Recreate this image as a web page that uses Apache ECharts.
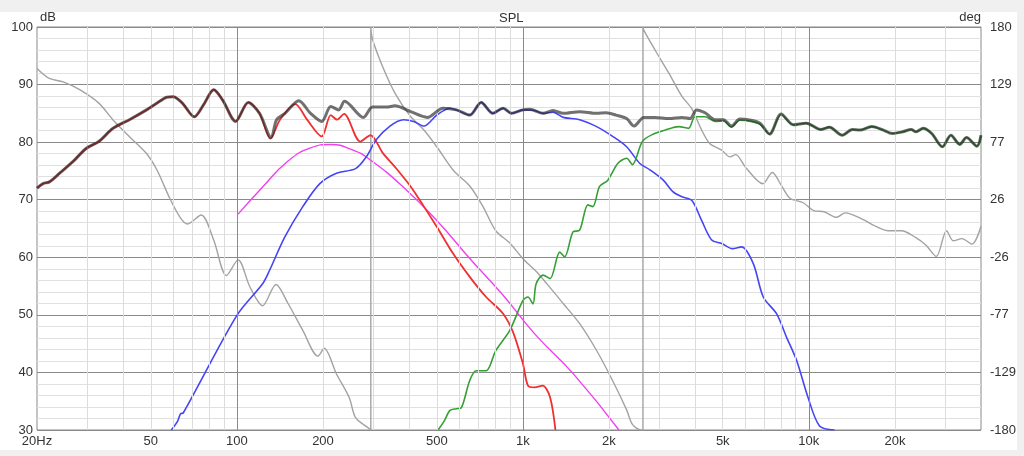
<!DOCTYPE html>
<html>
<head>
<meta charset="utf-8">
<script src="https://cdn.jsdelivr.net/npm/echarts@6/dist/echarts.min.js"></script>
<style>
  html, body { margin: 0; padding: 0; background: #f0f0f0; }
  #spl { width: 1024px; height: 456px; }
</style>
</head>
<body>
<div id="spl"></div>
<script>
// frequency labels and grid positions (Hz)
var hzLabels = [20, 50, 100, 200, 500, 1000, 2000, 5000, 10000, 20000];
var hzMajor = [100, 1000, 10000];
var hzMinor = [30, 40, 50, 60, 70, 80, 90, 200, 300, 400, 500, 600, 700, 800, 900,
    2000, 3000, 4000, 5000, 6000, 7000, 8000, 9000, 20000, 30000];

// summed response [Hz, dB]
var totalSpl = [[20,72.0],[21,72.8],[22.1,73.1],[24,74.6],[26.7,76.6],[29.7,78.9],[32.9,80.1],[36.9,82.4],[42.1,83.9],[48.3,85.6],
    [52.6,86.8],[56.8,87.8],[59.8,87.9],[64.4,86.8],[71,84.4],[76.5,86.5],[83,89.1],[89.2,87.3],[99,83.6],[109.6,86.9],
    [120,85.0],[131.8,80.8],[137.7,83.9],[147.4,85.0],[164.6,87.2],[181,85.0],[198,83.6],[213,86.2],[227,85.6],[238,87.1],
    [277,84.3],[298,86.1],[333,86.1],[357,86.3],[405,85.3],[463,84.3],[526,85.9],[586,85.6],[652,84.7],[715,86.9],
    [785,85.0],[853,85.9],[912,85.0],[1001,85.6],[1058,85.7],[1177,85.0],[1275,85.5],[1384,85.0],[1580,85.3],[1811,85.0],
    [1955,85.1],[2118,84.7],[2306,84.1],[2448,82.8],[2650,84.3],[2906,84.3],[3236,84.1],[3601,84.3],[3846,84.1],[4050,85.6],
    [4336,85.1],[4701,83.9],[5028,83.9],[5365,82.8],[5737,84.0],[6130,83.9],[6746,83.3],[7290,81.4],[8000,84.9],[8830,83.0],
    [9790,83.3],[11000,82.2],[11800,82.6],[13100,81.2],[14200,82.2],[15100,82.1],[16600,82.7],[18000,82.2],[19600,81.5],[21300,81.8],
    [22800,82.2],[23700,81.8],[25100,82.4],[26900,81.5],[29300,79.2],[31400,81.2],[33700,79.6],[35600,80.8],[38700,79.3],[40000,81.2]];

// woofer
var wooferSpl = [[20,72.0],[21,72.8],[22.1,73.1],[24,74.6],[26.7,76.6],[29.7,78.9],[32.9,80.1],[36.9,82.4],[42.1,83.9],[48.3,85.6],
    [52.6,86.8],[56.8,87.8],[59.8,87.9],[64.4,86.8],[71,84.4],[76.5,86.5],[83,89.1],[89.2,87.3],[99,83.6],[109.6,86.9],
    [120,85.0],[131,80.6],[141.5,83.9],[160,86.6],[176,83.9],[198,81.0],[213,84.7],[224,83.9],[237,84.9],[270,80.1],
    [293,81.2],[324,78.1],[357,75.7],[405,72.3],[451,68.8],[500,65.3],[571,60.6],[652,56.6],[744,53.1],[853,50.2],
    [924,47.0],[1001,41.5],[1042,37.7],[1100,37.4],[1173,37.7],[1245,35.7],[1300,30]];

// midrange
var midSpl = [[59,30],[62,31.5],[63.5,32.8],[65,33],[100,49.9],[123,55.4],[130,57.7],[147,63.5],[170,68.8],[195,72.8],
    [223,74.6],[260,75.4],[284,77.5],[307,80.4],[343,82.8],[383,83.9],[415,83.6],[451,82.8],[500,84.7],[556,85.9],
    [586,85.6],[652,84.7],[715,86.9],[785,85.0],[853,85.9],[912,85.0],[1001,85.6],[1100,85.5],[1177,85.0],[1275,85.2],
    [1384,84.3],[1580,83.9],[1811,82.7],[2061,81.0],[2306,79.2],[2566,76.3],[2780,75.2],[3098,73.4],[3345,71.4],[3601,70.5],
    [3896,69.9],[4218,66.4],[4575,63.0],[4958,62.4],[5400,61.5],[5815,61.8],[6394,58.9],[6928,53.1],[7710,50.2],[8360,46.1],
    [9060,42.1],[9930,35.7],[10900,30.7],[12300,30]];

// tweeter
var tweeterSpl = [[505,30],[530,31.5],[556,33.4],[586,33.7],[610,33.9],[652,38.6],[687,40.3],[744,40.3],[804,43.8],[900,47.3],
    [1001,52.5],[1042,53.1],[1085,51.9],[1113,55.4],[1177,56.9],[1245,56.3],[1346,60.9],[1400,60.1],[1497,64.4],[1580,64.7],
    [1688,69.1],[1756,68.8],[1855,72.3],[1982,73.4],[2147,76.3],[2306,77.2],[2416,76.1],[2616,80.1],[2832,81.3],[3150,82.1],
    [3507,82.7],[3796,82.4],[4003,84.4],[4336,84.4],[4701,83.6],[5028,83.7],[5365,82.6],[5737,83.8],[6130,83.7],[6746,83.1],
    [7290,81.4],[8000,84.8],[8830,83.0],[9790,83.3],[11000,82.2],[11800,82.6],[13100,81.2],[14200,82.2],[15100,82.1],[16600,82.7],
    [18000,82.2],[19600,81.5],[21300,81.8],[22800,82.2],[23700,81.8],[25100,82.4],[26900,81.5],[29300,79.2],[31400,81.2],[33700,79.6],
    [35600,80.8],[38700,79.3],[40000,81.2]];

// target (magenta)
var targetSpl = [[101,67.5],[123.5,72.3],[150,76.6],[181,79.0],[213,79.6],[255,78.6],[293,76.9],[380,72.3],[500,66.4],[652,59.8],
    [853,53.4],[1100,46.7],[1502,39.75],[2168,30]];

// phase [Hz, deg], wraps at +-180
var phaseDeg = [[20,143],[22.1,134],[24.7,131],[28.2,124],[32.9,112],[36.9,97],[42.1,82],[48.3,67],[52.6,52],[58,28],
    [63.3,10],[67.2,4],[75,12],[82.9,-10],[91.9,-42],[101,-28],[111,-52],[123,-69],[137,-50],[151,-67],
    [170,-91],[192,-114],[202,-107],[223,-130],[247,-151],[260,-169],[284,-177],[294,-180],[294,180],[298,169],
    [324,144],[357,121],[405,100],[451,88],[500,73],[571,52],[652,38],[724,20],[804,-2],[900,-13],
    [1001,-27],[1110,-38],[1210,-49],[1384,-67],[1580,-85],[1811,-109],[2061,-136],[2306,-162],[2416,-175],[2590,-180],
    [2630,-180],[2630,180],[2650,177],[2906,159],[3236,139],[3601,118],[3896,107],[4218,88],[4500,76],[4958,70],
    [5300,64],[5553,66],[5994,55],[6900,40],[7450,50],[8032,38],[8590,27],[9560,23],[10400,16],[11300,15],
    [12500,10],[13400,14],[15500,8],[16800,3],[18900,-2],[21100,-2],[23600,-8],[25700,-15],[27900,-25],[30300,-2],
    [32000,-11],[34300,-9],[37200,-14],[40000,2]];

var dbMin = 30, dbMax = 100;
// phase is drawn against the dB scale, right axis shows degrees
function degToDb(d) { return dbMin + (d + 180) / 360 * (dbMax - dbMin); }
function dbToDeg(v) { return (v - dbMin) / (dbMax - dbMin) * 360 - 180; }

var phaseOnDb = phaseDeg.map(function (p) { return [p[0], degToDb(p[1])]; });

var gridLines = [];
hzMinor.forEach(function (f) {
    gridLines.push({ xAxis: f, lineStyle: { color: '#dcdcdc', width: 1, type: 'solid' } });
});
hzMajor.forEach(function (f) {
    gridLines.push({ xAxis: f, lineStyle: { color: '#8a8a8a', width: 1, type: 'solid' } });
});

var font = 'Liberation Sans, Arial, sans-serif';

var myChart = echarts.init(document.getElementById('spl'));

var option = {
    backgroundColor: '#f0f0f0',
    animation: false,
    textStyle: { fontFamily: font },
    graphic: [{
        type: 'rect', z: -10, silent: true,
        shape: { x: 0, y: 12, width: 1017, height: 438 },
        style: { fill: '#ffffff' }
    }],
    title: {
        text: 'SPL',
        left: 494,
        top: 7,
        textStyle: { fontSize: 13, fontWeight: 'normal', color: '#333', fontFamily: font }
    },
    grid: {
        left: 37,
        right: 43,
        top: 27,
        bottom: 26,
        show: true,
        backgroundColor: '#ffffff',
        borderColor: '#8a8a8a',
        borderWidth: 1
    },
    xAxis: {
        type: 'log',
        logBase: 10,
        min: 20,
        max: 40000,
        axisLine: { show: false },
        axisTick: { show: false },
        splitLine: { show: false },
        axisLabel: {
            customValues: hzLabels,
            margin: 5,
            fontSize: 13,
            color: '#333',
            fontFamily: font,
            formatter: function (v) {
                if (v === 20) return '20Hz';
                if (v >= 1000) return (v / 1000) + 'k';
                return String(v);
            }
        }
    },
    yAxis: [{
        type: 'value',
        min: dbMin,
        max: dbMax,
        interval: 10,
        position: 'left',
        name: 'dB',
        nameLocation: 'end',
        nameGap: 3,
        nameTextStyle: { align: 'left', fontSize: 13, color: '#333', fontFamily: font, padding: [0, 0, 0, 3] },
        axisLine: { show: false },
        axisTick: { show: false },
        axisLabel: { fontSize: 13, color: '#333', margin: 4, fontFamily: font },
        splitLine: { show: true, lineStyle: { color: '#8a8a8a', width: 1 } },
        minorTick: { show: false, splitNumber: 5 },
        minorSplitLine: { show: true, lineStyle: { color: '#e0e0e0', width: 1 } }
    }, {
        type: 'value',
        min: dbMin,
        max: dbMax,
        interval: 10,
        position: 'right',
        name: 'deg',
        nameLocation: 'end',
        nameGap: 3,
        nameTextStyle: { align: 'right', fontSize: 13, color: '#333', fontFamily: font },
        axisLine: { show: false },
        axisTick: { show: false },
        splitLine: { show: false },
        axisLabel: {
            fontSize: 13, color: '#333', margin: 9, fontFamily: font,
            formatter: function (v) { return String(Math.round(dbToDeg(v))); }
        }
    }],
    series: [
        {
            name: 'grid',
            type: 'line',
            data: [],
            z: 1,
            silent: true,
            markLine: {
                silent: true,
                symbol: ['none', 'none'],
                label: { show: false },
                animation: false,
                data: gridLines
            }
        },
        {
            name: 'Phase',
            type: 'line',
            data: phaseOnDb,
            showSymbol: false,
            smooth: 0.3,
            z: 2,
            lineStyle: { color: '#a3a3a3', width: 1.4 }
        },
        {
            name: 'Target',
            type: 'line',
            data: targetSpl,
            showSymbol: false,
            smooth: 0.5,
            z: 3,
            lineStyle: { color: '#f040f0', width: 1.4 }
        },
        {
            name: 'Woofer',
            type: 'line',
            data: wooferSpl,
            showSymbol: false,
            smooth: 0.3,
            z: 4,
            lineStyle: { color: '#f03030', width: 1.8 }
        },
        {
            name: 'Mid',
            type: 'line',
            data: midSpl,
            showSymbol: false,
            smooth: 0.3,
            z: 4,
            lineStyle: { color: '#4545f5', width: 1.6 }
        },
        {
            name: 'Tweeter',
            type: 'line',
            data: tweeterSpl,
            showSymbol: false,
            smooth: 0.3,
            z: 4,
            lineStyle: { color: '#34a034', width: 1.6 }
        },
        {
            name: 'Total',
            type: 'line',
            data: totalSpl,
            showSymbol: false,
            smooth: 0.3,
            z: 5,
            lineStyle: { color: 'rgba(40,40,40,0.66)', width: 3 }
        }
    ]
};

myChart.setOption(option);
window.addEventListener('resize', function () {
    myChart.resize();
});
</script>
</body>
</html>
